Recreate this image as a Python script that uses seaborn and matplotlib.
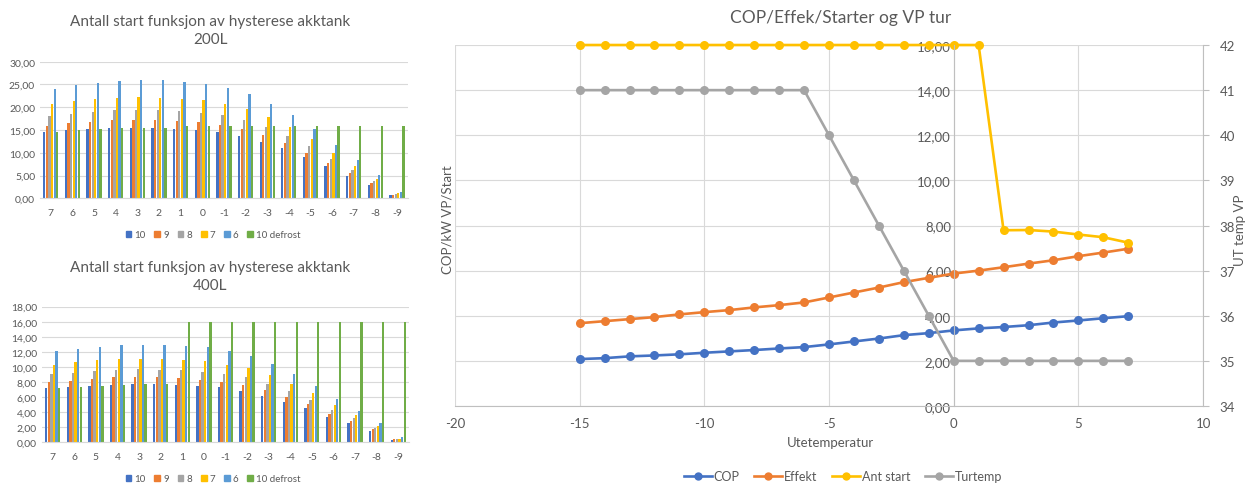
import pandas as pd
import matplotlib
matplotlib.use("Agg")
import matplotlib.pyplot as plt
from matplotlib.ticker import FuncFormatter
from matplotlib.lines import Line2D
from matplotlib.patches import Patch
import seaborn as sns

# ---- data: starts vs outdoor temperature, per hysteresis setting ----
categories = ["7", "6", "5", "4", "3", "2", "1", "0", "-1", "-2", "-3", "-4", "-5", "-6", "-7", "-8", "-9"]
series = ["10", "9", "8", "7", "6", "10 defrost"]
bar_colors = ["#4472C4", "#ED7D31", "#A5A5A5", "#FFC000", "#5B9BD5", "#70AD47"]

# 200L tank
t200_h10 = [14.6, 15.0, 15.2, 15.4, 15.5, 15.5, 15.3, 15.0, 14.5, 13.7, 12.3, 11.0, 9.0, 7.0, 5.0, 3.0, 0.7]
t200_h9 = [15.9, 16.5, 16.8, 17.2, 17.3, 17.2, 17.0, 16.7, 16.0, 15.2, 13.9, 12.2, 10.0, 7.7, 5.6, 3.4, 0.8]
t200_h8 = [18.0, 18.5, 18.9, 19.3, 19.4, 19.3, 19.1, 18.7, 18.2, 17.2, 15.6, 13.7, 11.4, 8.6, 6.3, 3.8, 0.9]
t200_h7 = [20.6, 21.3, 21.7, 22.0, 22.2, 22.0, 21.8, 21.5, 20.7, 19.6, 17.8, 15.6, 13.0, 9.9, 7.2, 4.3, 1.1]
t200_h6 = [23.9, 24.8, 25.3, 25.7, 26.0, 26.0, 25.5, 25.2, 24.2, 22.9, 20.7, 18.2, 15.2, 11.6, 8.4, 5.1, 1.3]
t200_def = [14.6, 15.0, 15.2, 15.4, 15.5, 15.5, 15.8, 15.8, 15.8, 15.8, 15.8, 15.8, 15.8, 15.8, 15.8, 15.8, 15.8]

# 400L tank
t400_h10 = [7.2, 7.4, 7.5, 7.6, 7.8, 7.8, 7.6, 7.5, 7.3, 6.8, 6.2, 5.4, 4.5, 3.4, 2.5, 1.5, 0.35]
t400_h9 = [8.0, 8.2, 8.4, 8.6, 8.6, 8.6, 8.5, 8.3, 8.0, 7.6, 7.0, 6.0, 5.1, 3.8, 2.8, 1.7, 0.4]
t400_h8 = [9.0, 9.2, 9.5, 9.6, 9.7, 9.6, 9.6, 9.3, 9.0, 8.6, 7.8, 6.8, 5.6, 4.3, 3.2, 1.9, 0.45]
t400_h7 = [10.3, 10.7, 10.9, 11.1, 11.1, 11.0, 10.9, 10.8, 10.3, 9.8, 8.9, 7.8, 6.5, 5.0, 3.6, 2.2, 0.5]
t400_h6 = [12.1, 12.4, 12.7, 12.9, 12.9, 12.9, 12.8, 12.6, 12.1, 11.4, 10.4, 9.1, 7.5, 5.8, 4.2, 2.5, 0.65]
t400_def = [7.2, 7.4, 7.5, 7.6, 7.8, 7.8, 16.0, 16.0, 16.0, 16.0, 16.0, 16.0, 16.0, 16.0, 16.0, 16.0, 16.0]

# COP / power / starts / supply temp vs outdoor temperature
ute = list(range(-15, 8))
cop = [2.08, 2.12, 2.20, 2.24, 2.29, 2.36, 2.42, 2.48, 2.55, 2.61, 2.73, 2.86, 2.99, 3.14, 3.23, 3.35,
       3.44, 3.50, 3.58, 3.70, 3.79, 3.89, 3.98]
effekt = [3.67, 3.76, 3.85, 3.94, 4.06, 4.16, 4.25, 4.37, 4.47, 4.59, 4.81, 5.03, 5.25, 5.49, 5.68, 5.87,
          6.00, 6.15, 6.31, 6.46, 6.64, 6.80, 6.97]
ant_start = [16.0] * 17 + [7.79, 7.80, 7.73, 7.60, 7.48, 7.24]
turtemp = [41, 41, 41, 41, 41, 41, 41, 41, 41, 41, 40, 39, 38, 37, 36, 35, 35, 35, 35, 35, 35, 35, 35]

text_col = "#595959"
grid_col = "#D9D9D9"
axis_col = "#BFBFBF"

plt.rcParams["font.family"] = ["Lato", "DejaVu Sans"]
plt.rcParams["axes.unicode_minus"] = False

fig = plt.figure(figsize=(12.6, 4.89), dpi=100)


def comma(v, pos):
    return f"{v:.2f}".replace(".", ",")


def long_df(cols):
    rows = []
    for s, vals in zip(series, cols):
        for c, v in zip(categories, vals):
            rows.append({"ute": c, "hysterese": s, "starts": v})
    return pd.DataFrame(rows)


def bar_panel(rect, df, ymax, ystep, label, title_y, leg_y):
    ax = fig.add_axes(rect)
    sns.barplot(data=df, x="ute", y="starts", hue="hysterese", order=categories, hue_order=series,
                palette=bar_colors, saturation=1, width=0.72, gap=0.12, legend=False, ax=ax)
    ax.set_ylim(0, ymax)
    ax.set_yticks([i * ystep for i in range(int(round(ymax / ystep)) + 1)])
    ax.yaxis.set_major_formatter(FuncFormatter(comma))
    ax.grid(axis="y", color=grid_col, lw=0.8)
    ax.set_axisbelow(True)
    for s in ["top", "right", "left"]:
        ax.spines[s].set_visible(False)
    ax.spines["bottom"].set_color(grid_col)
    ax.tick_params(length=0, labelsize=7.5, colors=text_col)
    ax.tick_params(axis="x", pad=7)
    ax.set_xlabel("")
    ax.set_ylabel("")
    fig.text(0.167, title_y, "Antall start funksjon av hysterese akktank\n" + label,
             ha="center", va="center", fontsize=11, color=text_col, linespacing=1.35)
    handles = [Patch(color=c, label=s) for s, c in zip(series, bar_colors)]
    fig.legend(handles=handles, loc="center", bbox_to_anchor=(0.169, leg_y), ncol=6, frameon=False,
               fontsize=7, handlelength=0.6, handleheight=0.6, handletextpad=0.3, columnspacing=0.9,
               labelcolor=text_col)
    return ax


bar_panel([0.0317, 0.5924, 0.292, 0.2794],
          long_df([t200_h10, t200_h9, t200_h8, t200_h7, t200_h6, t200_def]),
          30, 5, "200L", 1 - 31 / 489, 1 - 236 / 489)
bar_panel([0.0333, 0.0935, 0.2913, 0.2773],
          long_df([t400_h10, t400_h9, t400_h8, t400_h7, t400_h6, t400_def]),
          18, 2, "400L", 1 - 277 / 489, 1 - 480 / 489)

# ---- right panel ----
line_cols = {"COP": "#4472C4", "Effekt": "#ED7D31", "Ant start": "#FFC000", "Turtemp": "#A5A5A5"}
ax = fig.add_axes([0.3611, 0.1677, 0.5937, 0.7382])
kw = dict(marker="o", markersize=6.5, markeredgewidth=0, lw=1.9, clip_on=False)
sns.lineplot(x=ute, y=cop, color=line_cols["COP"], ax=ax, **kw)
sns.lineplot(x=ute, y=effekt, color=line_cols["Effekt"], ax=ax, **kw)
sns.lineplot(x=ute, y=ant_start, color=line_cols["Ant start"], ax=ax, **kw)
ax.set_xlim(-20, 10)
ax.set_ylim(0, 16)
ax.set_xticks(range(-20, 11, 5))
ax.set_yticks(range(0, 17, 2))
ax.yaxis.set_major_formatter(FuncFormatter(comma))
ax.grid(True, color=grid_col, lw=0.8)
ax.set_axisbelow(True)
ax.spines["left"].set_position(("data", 0))
ax.spines["left"].set_color(axis_col)
ax.spines["bottom"].set_color(axis_col)
ax.spines["top"].set_visible(False)
ax.spines["right"].set_visible(False)
ax.tick_params(length=0, labelsize=9.5, colors=text_col)
ax.tick_params(axis="x", pad=8)
ax.tick_params(axis="y", pad=2)
ax.set_xlabel("")
ax.set_ylabel("")

ax2 = ax.twinx()
sns.lineplot(x=ute, y=turtemp, color=line_cols["Turtemp"], ax=ax2, **kw)
ax2.set_ylim(34, 42)
ax2.set_yticks(range(34, 43))
for s in ["top", "left", "bottom"]:
    ax2.spines[s].set_visible(False)
ax2.spines["right"].set_color(axis_col)
ax2.tick_params(axis="y", length=4, color=axis_col, labelsize=9.5, labelcolor=text_col, pad=8)
ax2.set_ylabel("")

fig.text(841 / 1260, 1 - 18 / 489, "COP/Effek/Starter og VP tur", ha="center", va="center",
         fontsize=12.5, color=text_col)
fig.text(830 / 1260, 1 - 443 / 489, "Utetemperatur", ha="center", va="center", fontsize=9.5, color=text_col)
fig.text(447 / 1260, 1 - 220 / 489, "COP/kW VP/Start", ha="center", va="center", rotation=90,
         fontsize=9.5, color=text_col)
fig.text(1240 / 1260, 1 - 230 / 489, "UT temp VP", ha="center", va="center", rotation=90,
         fontsize=9.5, color=text_col)

handles = [Line2D([], [], color=c, marker="o", markersize=6, markeredgewidth=0, lw=1.9, label=n)
           for n, c in line_cols.items()]
fig.legend(handles=handles, loc="center", bbox_to_anchor=(843 / 1260, 1 - 477 / 489), ncol=4,
           frameon=False, fontsize=9, handlelength=2.2, handletextpad=0.15, columnspacing=1.2,
           labelcolor=text_col)

fig.savefig("out.png", dpi=100)
